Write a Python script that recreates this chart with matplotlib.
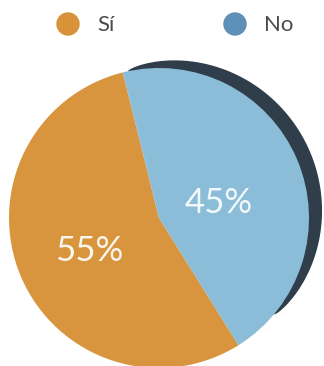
import numpy as np
import matplotlib.pyplot as plt
from matplotlib.patches import Circle, Polygon

labels = ['Sí', 'No']
values = [55, 45]
pct_labels = ['55%', '45%']
face_colors = ['#d8953e', '#8bbcd8']
dot_colors = ['#d8923a', '#5e90b8']
rim_color = '#2f3e4a'

W, H = 324, 366
fig = plt.figure(figsize=(W / 100, H / 100), dpi=100)
ax = fig.add_axes([0, 0, 1, 1])

cx, cy, r = 159, 148, 150

# dark rim of the tilted disc, tapering off at both ends
th = np.radians(np.linspace(-40, 102, 200))
u = (th - th[0]) / (th[-1] - th[0])
thick = 15 * np.sin(np.pi * u) ** 0.6
outer = np.column_stack([cx + (r + thick) * np.cos(th), cy + (r + thick) * np.sin(th)])
inner = np.column_stack([cx + (r - 5) * np.cos(th[::-1]), cy + (r - 5) * np.sin(th[::-1])])
ax.add_patch(Polygon(np.vstack([outer, inner]), closed=True, color=rim_color,
                     lw=0, zorder=1))

ax.pie(values, colors=face_colors, startangle=104,
       center=(cx, cy), radius=r, frame=True,
       wedgeprops=dict(linewidth=0, zorder=2))
ax.set_xlim(0, W)
ax.set_ylim(0, H)
ax.set_aspect('equal')
ax.axis('off')

ax.text(89, H - 251, pct_labels[0], color='#fbf6ee', fontsize=25,
        family='Lato', weight='normal', ha='center', va='center', zorder=3)
ax.text(219, H - 203, pct_labels[1], color='#f2f8fb', fontsize=25,
        family='Lato', weight='normal', ha='center', va='center', zorder=3)

# legend
for x_dot, x_txt, lab, col in zip([68, 235], [97, 264], labels, dot_colors):
    ax.add_patch(Circle((x_dot, H - 24), 11, color=col, zorder=3))
    ax.text(x_txt, H - 25, lab, color='#4a4a4a', fontsize=16,
            family='Lato', weight='normal', ha='left', va='center')

fig.savefig('out.png', dpi=100)
